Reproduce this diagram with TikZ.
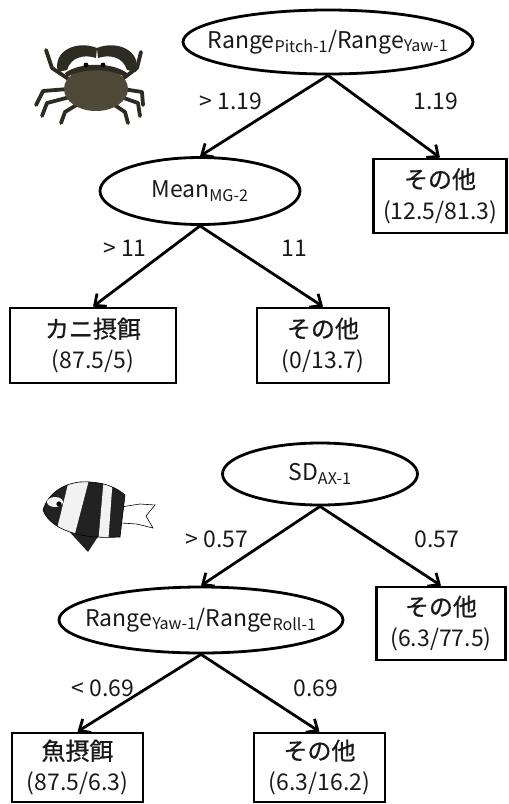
\documentclass[tikz,border=0pt]{standalone}
\usepackage{fontspec}
\setmainfont{Noto Sans CJK JP}
\newfontfamily\jpheavy{Noto Sans CJK JP}[FakeBold=0.7]
\usetikzlibrary{shapes.geometric,arrows.meta}
\definecolor{crabdark}{HTML}{2E2C22}
\definecolor{crabshell}{HTML}{4F4A37}
\definecolor{fishdark}{HTML}{222222}
\definecolor{fishlight}{HTML}{F2F2F2}
% zero-width text so the ellipse size comes only from minimum width/height
\newcommand\nowidth[1]{\makebox[0pt]{#1}}
% two-line leaf text: class name above, percentages below
\newcommand\leaftext[2]{{\jpheavy\fontsize{24}{31}\selectfont #1}\\#2}
\begin{document}
\begin{tikzpicture}[x=1pt,y=-1pt,
  txt/.style={font=\fontsize{23}{31}\selectfont, text=black!90},
  split/.style={txt, draw, ellipse, line width=2.8pt, inner sep=0pt},
  leaf/.style={txt, draw, rectangle, line width=2.8pt, inner sep=0pt, align=center},
  cond/.style={txt, inner sep=0pt},
  branch/.style={line width=2.8pt, -{Straight Barb[length=9pt,width=16pt]}},
  crableg/.style={draw=crabdark, line width=3.8pt, line cap=round, line join=round}]
\useasboundingbox (0,0) rectangle (509,804);

% ---------- crab tree ----------
\node[split, minimum width=290pt, minimum height=64pt] (r1) at (328,42)
  {\nowidth{Range\textsubscript{Pitch-1}/Range\textsubscript{Yaw-1}}};
\node[split, minimum width=200pt, minimum height=67pt] (m1) at (200,191)
  {\nowidth{Mean\textsubscript{MG-2}}};
\node[leaf, minimum width=133pt, minimum height=74pt] (l1) at (440,196)
  {\leaftext{その他}{(12.5/81.3)}};
\node[leaf, minimum width=166pt, minimum height=75pt] (l2) at (93,345.5)
  {\leaftext{カニ摂餌}{(87.5/5)}};
\node[leaf, minimum width=132pt, minimum height=75pt] (l3) at (323,345.5)
  {\leaftext{その他}{(0/13.7)}};

\node[cond] (c1) at (231,101) {> 1.19};
\node[cond] (c2) at (436,101) {1.19};
\node[cond] (c3) at (125,248) {> 11};
\node[cond] (c4) at (294,248) {11};

\draw[branch] (r1.south) -- (m1.north);
\draw[branch] (r1.south) -- (l1.north);
\draw[branch] (m1.south) -- (l2.north);
\draw[branch] (m1.south) -- (l3.north);

% ---------- fish tree ----------
\node[split, minimum width=195pt, minimum height=62pt] (r2) at (320,474)
  {\nowidth{SD\textsubscript{AX-1}}};
\node[split, minimum width=284pt, minimum height=66pt] (m2) at (201,620)
  {\nowidth{Range\textsubscript{Yaw-1}/Range\textsubscript{Roll-1}}};
\node[leaf, minimum width=129pt, minimum height=73pt] (l4) at (441,623.5)
  {\leaftext{その他}{(6.3/77.5)}};
\node[leaf, minimum width=131pt, minimum height=69pt] (l5) at (77.5,767.5)
  {\leaftext{魚摂餌}{(87.5/6.3)}};
\node[leaf, minimum width=131pt, minimum height=69pt] (l6) at (319.5,767.5)
  {\leaftext{その他}{(6.3/16.2)}};

\node[cond] (c5) at (217,539) {> 0.57};
\node[cond] (c6) at (437,539) {0.57};
\node[cond] (c7) at (103,688) {< 0.69};
\node[cond] (c8) at (316,688) {0.69};

\draw[branch] (r2.south) -- (m2.north);
\draw[branch] (r2.south) -- (l4.north);
\draw[branch] (m2.south) -- (l5.north);
\draw[branch] (m2.south) -- (l6.north);

% ---------- crab ----------
\draw[crableg] (70,80) -- (52,68) -- (46,50);
\draw[crableg] (68,89) -- (43,91) -- (36,105);
\draw[crableg] (70,97) -- (47,103) -- (42,116);
\draw[crableg] (78,104) -- (65,112) -- (61,123);
\draw[crableg] (121,80) -- (137,68) -- (141,52);
\draw[crableg] (123,89) -- (142,92) -- (143,105);
\draw[crableg] (121,97) -- (138,103) -- (140,116);
\draw[crableg] (113,104) -- (125,112) -- (128,123);
% claws
\fill[crabdark] (58,72) .. controls (52,50) and (78,40) .. (97,48)
  -- (96,58) .. controls (84,54) and (71,57) .. (67,70) -- cycle;
\fill[crabdark] (136,72) .. controls (142,50) and (116,40) .. (97,48)
  -- (98,58) .. controls (110,54) and (123,57) .. (127,70) -- cycle;
% shell
\fill[crabshell] (96,89) ellipse [x radius=32pt, y radius=22pt];
\fill[crabdark] (65,73) .. controls (80,62) and (112,62) .. (127,73)
  -- (125,77) .. controls (110,68) and (82,68) .. (67,77) -- cycle;
\fill[black] (86,65) circle [radius=2.4pt];
\fill[black] (103,65) circle [radius=2.4pt];

% ---------- fish ----------
% tail
\draw[fill=white, line width=0.6pt] (121,507) -- (140,504) -- (155,505)
  -- (146,516) -- (153,528) -- (137,524) -- (121,523) -- cycle;
% ventral fin
\fill[fishdark] (66,528) -- (88,552) -- (101,532) -- cycle;
% body with stripes
\begin{scope}
  \path[clip] (43,510) .. controls (48,494) and (62,484) .. (80,482)
    .. controls (100,481) and (115,486) .. (125,495)
    -- (120,537) .. controls (100,538) and (85,537) .. (70,532)
    .. controls (58,528) and (47,521) .. (43,510) -- cycle;
  \fill[fishdark] (40,475) rectangle (130,545);
  \fill[fishlight] (70,476) -- (90,476) -- (72,545) -- (53,545) -- cycle;
  \fill[fishlight] (104,476) -- (113,476) -- (108,545) -- (98,545) -- cycle;
\end{scope}
\draw[line width=0.6pt] (43,510) .. controls (48,494) and (62,484) .. (80,482)
    .. controls (100,481) and (115,486) .. (125,495)
    -- (120,537) .. controls (100,538) and (85,537) .. (70,532)
    .. controls (58,528) and (47,521) .. (43,510) -- cycle;
% eye
\fill[fishlight] (55,502) ellipse [x radius=8pt, y radius=5pt];
\fill[black] (59,504) circle [radius=2.6pt];
\end{tikzpicture}
\end{document}
